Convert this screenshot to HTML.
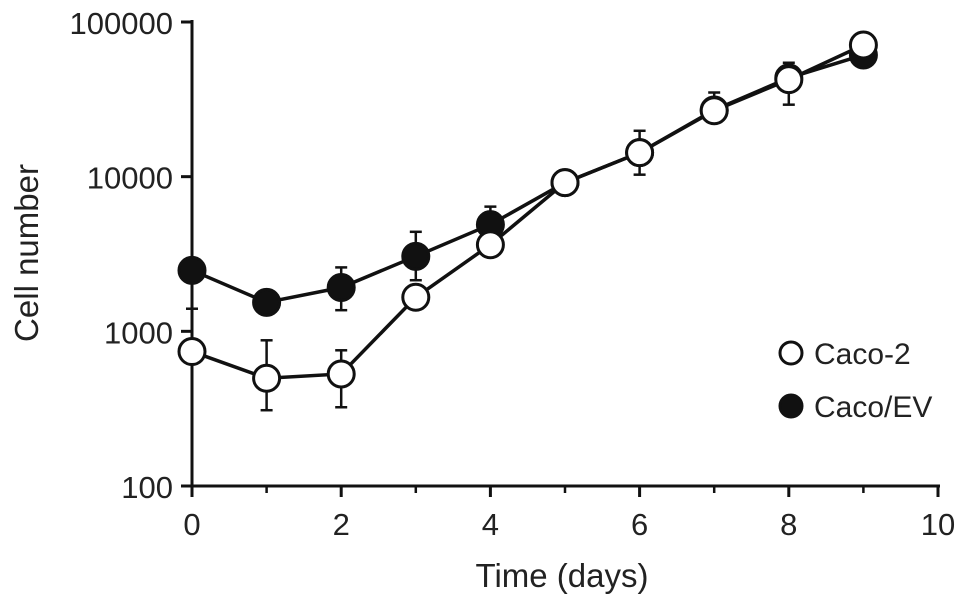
<!DOCTYPE html>
<html><head><meta charset="utf-8"><style>
body{margin:0;background:#fff}
svg text{font-family:"Liberation Sans",Arial,sans-serif;fill:#222}
</style></head><body>
<svg id="chart" width="969" height="606" viewBox="0 0 969 606"></svg>
<script>
const days=[0,1,2,3,4,5,6,7,8,9];
const caco2=[740,497,530,1660,3630,9150,14300,26700,42400,71000];
const caco2Upper=[800,875,754,1800,3900,9500,16000,29000,54500,74000];
const caco2Lower=[690,309,323,1550,3400,8800,12500,24500,29200,68000];
const cacoEV=[2480,1540,1920,3055,4900,9150,14300,27000,43500,61200];
const cacoEVUpper=[2700,1650,2590,4400,6400,9500,19800,35000,50000,64000];
const cacoEVLower=[1400,1450,1370,2140,4500,8800,10300,25000,38000,58000];
const xTicks=[0,2,4,6,8,10];
const xMinor=[1,3,5,7,9];
const yTicks=[100,1000,10000,100000];
const NS="http://www.w3.org/2000/svg";
const svg=document.getElementById('chart');
const X=d=>192+d*74.6;
const Y=v=>486-(Math.log10(v)-2)*154.67;
function mk(t,a,p){const e=document.createElementNS(NS,t);for(const k in a)e.setAttribute(k,a[k]);(p||svg).appendChild(e);return e;}
const ax=mk('g',{});


mk('line',{x1:192,y1:20,x2:192,y2:488,stroke:'#111','stroke-width':3},ax);
mk('line',{x1:190,y1:486,x2:940,y2:486,stroke:'#111','stroke-width':3},ax);
xTicks.forEach(t=>{
 mk('line',{x1:X(t),y1:486,x2:X(t),y2:497,stroke:'#111','stroke-width':3},ax);
 const tx=mk('text',{x:X(t),y:535,'text-anchor':'middle','font-size':31},ax);tx.textContent=t;
 
 
});
xMinor.forEach(t=>{
 mk('line',{x1:X(t),y1:486,x2:X(t),y2:493,stroke:'#111','stroke-width':2.5},ax);
});
yTicks.forEach(t=>{
 mk('line',{x1:181,y1:Y(t),x2:192,y2:Y(t),stroke:'#111','stroke-width':3},ax);
 const tx=mk('text',{x:173,y:Y(t)+12,'text-anchor':'end','font-size':31},ax);tx.textContent=t;
 
 
});
const xt=mk('text',{x:562,y:587,'text-anchor':'middle','font-size':33});xt.textContent='Time (days)';


const yt=mk('text',{x:0,y:0,'text-anchor':'middle','font-size':33,transform:'translate(38,253) rotate(-90)'});yt.textContent='Cell number';


function series(vals,up,lo,fill,name){
 const g=mk('g',{});
 
 
 days.forEach((d,i)=>{
  mk('line',{x1:X(d),y1:Y(up[i]),x2:X(d),y2:Y(lo[i]),stroke:'#111','stroke-width':2.5},g);
  mk('line',{x1:X(d)-6,y1:Y(up[i]),x2:X(d)+6,y2:Y(up[i]),stroke:'#111','stroke-width':2.5},g);
  mk('line',{x1:X(d)-6,y1:Y(lo[i]),x2:X(d)+6,y2:Y(lo[i]),stroke:'#111','stroke-width':2.5},g);
 });
 mk('polyline',{points:days.map((d,i)=>X(d)+','+Y(vals[i])).join(' '),fill:'none',stroke:'#111','stroke-width':3.5},g);
 days.forEach((d,i)=>{
  const c=mk('circle',{cx:X(d),cy:Y(vals[i]),r:13,fill:fill,stroke:'#111','stroke-width':3},g);
  
  
 });
}
series(cacoEV,cacoEVUpper,cacoEVLower,'#111','series-caco-ev');
series(caco2,caco2Upper,caco2Lower,'#fff','series-caco-2');
const lg=mk('g',{});


mk('circle',{cx:791,cy:353,r:11,fill:'#fff',stroke:'#111','stroke-width':3},lg);
let t1=mk('text',{x:814,y:364,'font-size':30},lg);t1.textContent='Caco-2';


mk('circle',{cx:791,cy:406,r:11,fill:'#111',stroke:'#111','stroke-width':3},lg);
let t2=mk('text',{x:814,y:417,'font-size':30},lg);t2.textContent='Caco/EV';


</script>
</body></html>
